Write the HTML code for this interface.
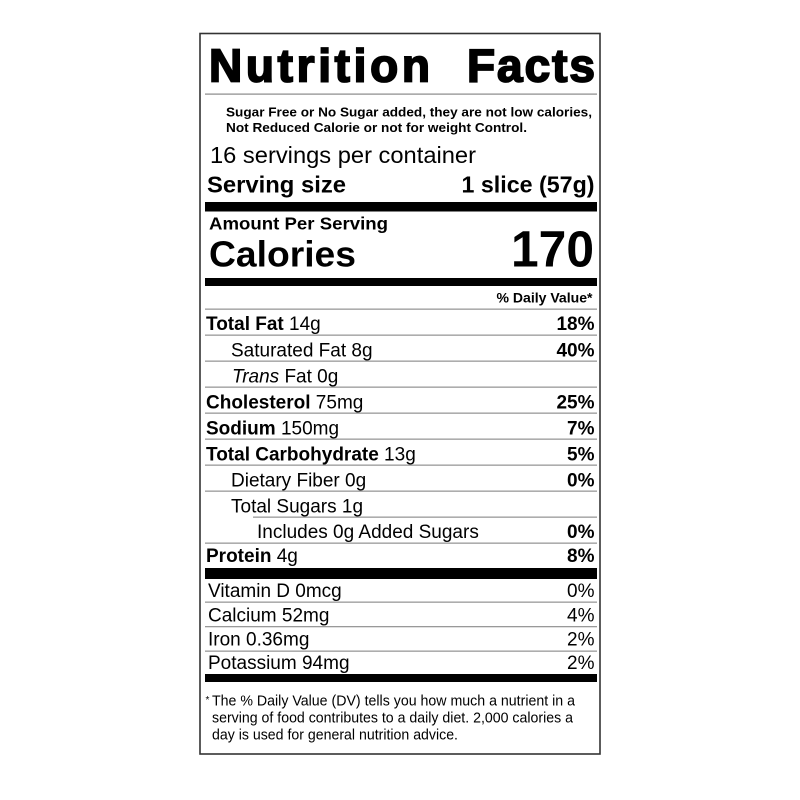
<!DOCTYPE html>
<html><head><meta charset="utf-8"><style>
html,body{margin:0;padding:0;background:#fff;}
svg{display:block;}
text{font-family:"Liberation Sans",Arial,Helvetica,sans-serif;fill:#000;}
.b{font-weight:bold;}
</style></head><body>
<svg width="800" height="800" viewBox="0 0 800 800" xmlns="http://www.w3.org/2000/svg">
<rect x="0" y="0" width="800" height="800" fill="#fff"/>
<rect x="200" y="33.5" width="400" height="720.5" fill="none" stroke="#333" stroke-width="1.6"/>

<text x="209" y="81.5" font-size="46" class="b" textLength="221" lengthAdjust="spacing" stroke="#000" stroke-width="1.8">Nutrition</text>
<text x="467" y="81.5" font-size="46" class="b" textLength="128" lengthAdjust="spacing" stroke="#000" stroke-width="1.8">Facts</text>
<rect x="205" y="93.5" width="392" height="1.2" fill="#888"/>

<text x="226" y="116.5" font-size="13" class="b" textLength="366" lengthAdjust="spacingAndGlyphs">Sugar Free or No Sugar added, they are not low calories,</text>
<text x="226" y="132" font-size="13" class="b" textLength="301" lengthAdjust="spacingAndGlyphs">Not Reduced Calorie or not for weight Control.</text>

<text x="210" y="163" font-size="23" textLength="266" lengthAdjust="spacingAndGlyphs">16 servings per container</text>
<text x="207" y="192.5" font-size="23" class="b" textLength="139" lengthAdjust="spacingAndGlyphs">Serving size</text>
<text x="461.5" y="192.5" font-size="23" class="b" textLength="133" lengthAdjust="spacingAndGlyphs">1 slice (57g)</text>

<rect x="205" y="202" width="392" height="9.5" fill="#000"/>

<text x="209" y="229.5" font-size="17.5" class="b" textLength="179" lengthAdjust="spacingAndGlyphs">Amount Per Serving</text>
<text x="209" y="266.5" font-size="36" class="b" textLength="147" lengthAdjust="spacingAndGlyphs">Calories</text>
<text x="511" y="266.5" font-size="51" class="b" textLength="83" lengthAdjust="spacingAndGlyphs">170</text>

<rect x="205" y="278" width="392" height="8" fill="#000"/>

<text x="496.5" y="302.5" font-size="13.5" class="b" textLength="96" lengthAdjust="spacingAndGlyphs">% Daily Value*</text>

<g fill="#999">
<rect x="205" y="308.5" width="392" height="1.3"/>
<rect x="205" y="334.5" width="392" height="1.3"/>
<rect x="205" y="360.5" width="392" height="1.3"/>
<rect x="205" y="386.5" width="392" height="1.3"/>
<rect x="205" y="412.5" width="392" height="1.3"/>
<rect x="205" y="438.5" width="392" height="1.3"/>
<rect x="205" y="464.5" width="392" height="1.3"/>
<rect x="205" y="490.5" width="392" height="1.3"/>
<rect x="253" y="516.5" width="344" height="1.3"/>
<rect x="205" y="542.5" width="392" height="1.3"/>
</g>

<g font-size="19">
<text x="206" y="330"><tspan class="b">Total Fat</tspan> 14g</text>
<text x="594.5" y="330" text-anchor="end" class="b">18%</text>

<text x="231" y="356.5">Saturated Fat 8g</text>
<text x="594.5" y="356.5" text-anchor="end" class="b">40%</text>

<text x="232" y="382.5"><tspan font-style="italic">Trans</tspan> Fat 0g</text>

<text x="206" y="408.5"><tspan class="b">Cholesterol</tspan> 75mg</text>
<text x="594.5" y="408.5" text-anchor="end" class="b">25%</text>

<text x="206" y="434.5"><tspan class="b">Sodium</tspan> 150mg</text>
<text x="594.5" y="434.5" text-anchor="end" class="b">7%</text>

<text x="206" y="460.5"><tspan class="b">Total Carbohydrate</tspan> 13g</text>
<text x="594.5" y="460.5" text-anchor="end" class="b">5%</text>

<text x="231" y="486.5">Dietary Fiber 0g</text>
<text x="594.5" y="486.5" text-anchor="end" class="b">0%</text>

<text x="231" y="512.5">Total Sugars 1g</text>

<text x="257" y="538">Includes 0g Added Sugars</text>
<text x="594.5" y="538" text-anchor="end" class="b">0%</text>

<text x="206" y="562"><tspan class="b">Protein</tspan> 4g</text>
<text x="594.5" y="562" text-anchor="end" class="b">8%</text>
</g>

<rect x="205" y="568" width="392" height="11" fill="#000"/>

<g fill="#999">
<rect x="205" y="601.5" width="392" height="1.3"/>
<rect x="205" y="626" width="392" height="1.3"/>
<rect x="205" y="650.5" width="392" height="1.3"/>
</g>

<g font-size="19">
<text x="208" y="597">Vitamin D 0mcg</text>
<text x="594.5" y="597" text-anchor="end">0%</text>
<text x="208" y="621.5">Calcium 52mg</text>
<text x="594.5" y="621.5" text-anchor="end">4%</text>
<text x="208" y="645.5">Iron 0.36mg</text>
<text x="594.5" y="645.5" text-anchor="end">2%</text>
<text x="208" y="669">Potassium 94mg</text>
<text x="594.5" y="669" text-anchor="end">2%</text>
</g>

<rect x="205" y="674" width="392" height="8" fill="#000"/>

<text x="205.5" y="703" font-size="10">*</text>
<text x="212" y="705.5" font-size="14.5" textLength="363" lengthAdjust="spacingAndGlyphs">The % Daily Value (DV) tells you how much a nutrient in a</text>
<text x="212" y="722.5" font-size="14.5" textLength="361" lengthAdjust="spacingAndGlyphs">serving of food contributes to a daily diet. 2,000 calories a</text>
<text x="212" y="739.5" font-size="14.5" textLength="246" lengthAdjust="spacingAndGlyphs">day is used for general nutrition advice.</text>
</svg>
</body></html>
